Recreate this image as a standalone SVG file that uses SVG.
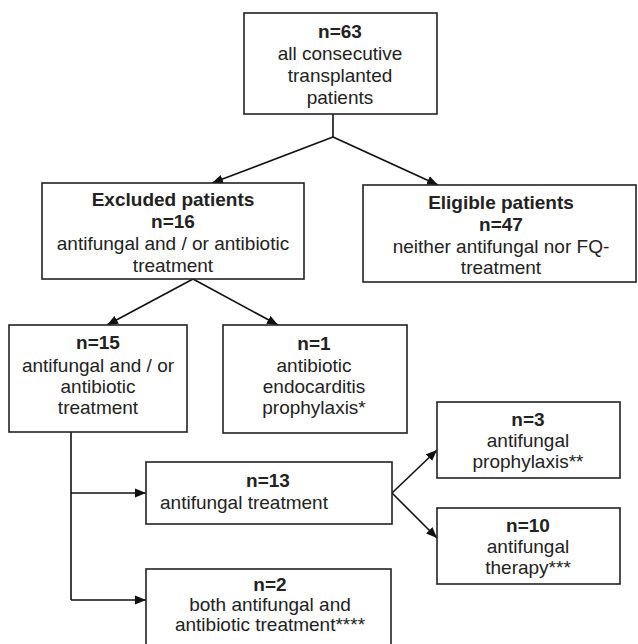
<svg xmlns="http://www.w3.org/2000/svg" width="638" height="644" viewBox="0 0 638 644">
<style>
.box{fill:#fff;stroke:#222;stroke-width:1.6}
text{font-family:"Liberation Sans",Arial,sans-serif;font-size:19px;fill:#222;text-anchor:middle}
.b{font-weight:bold}
.c{fill:none;stroke:#111;stroke-width:1.6}
</style>
<defs>
<marker id="ah" markerWidth="12" markerHeight="10" refX="11" refY="5" orient="auto" markerUnits="userSpaceOnUse">
<path d="M0,0.5 L11,5 L0,9.5 Z" fill="#111"/>
</marker>
</defs>
<rect width="638" height="644" fill="#fff"/>
<g id="connectors">
<path class="c" d="M333,114 V137"/>
<path class="c" d="M333,137 L212,183" marker-end="url(#ah)"/>
<path class="c" d="M333,137 L438,185" marker-end="url(#ah)"/>
<path class="c" d="M193,279 L107,325" marker-end="url(#ah)"/>
<path class="c" d="M193,279 L278,325" marker-end="url(#ah)"/>
<path class="c" d="M71,432 V600"/>
<path class="c" d="M71,493 H146" marker-end="url(#ah)"/>
<path class="c" d="M71,600 H146" marker-end="url(#ah)"/>
<path class="c" d="M392,493 L437,450" marker-end="url(#ah)"/>
<path class="c" d="M392,493 L437,538" marker-end="url(#ah)"/>
</g>
<g id="n63">
<rect class="box" x="244" y="13" width="193" height="101"/>
<text x="340" y="38" class="b">n=63</text>
<text x="340" y="60">all consecutive</text>
<text x="340" y="82">transplanted</text>
<text x="340" y="104">patients</text>
</g>
<g id="excluded">
<rect class="box" x="42" y="183" width="262" height="96"/>
<text x="173" y="206" class="b">Excluded patients</text>
<text x="173" y="228" class="b">n=16</text>
<text x="173" y="250">antifungal and / or antibiotic</text>
<text x="173" y="272">treatment</text>
</g>
<g id="eligible">
<rect class="box" x="363" y="185" width="273" height="97"/>
<text x="501" y="209" class="b">Eligible patients</text>
<text x="501" y="231" class="b">n=47</text>
<text x="501" y="253">neither antifungal nor FQ-</text>
<text x="501" y="274">treatment</text>
</g>
<g id="n15">
<rect class="box" x="9" y="325" width="178" height="107"/>
<text x="98" y="349" class="b">n=15</text>
<text x="98" y="372">antifungal and / or</text>
<text x="98" y="393">antibiotic</text>
<text x="98" y="414">treatment</text>
</g>
<g id="n1">
<rect class="box" x="223" y="325" width="184" height="108"/>
<text x="314" y="350" class="b">n=1</text>
<text x="314" y="372">antibiotic</text>
<text x="314" y="393">endocarditis</text>
<text x="314" y="414">prophylaxis*</text>
</g>
<g id="n13">
<rect class="box" x="146" y="462" width="246" height="62"/>
<text x="268" y="487" class="b">n=13</text>
<text x="160" y="509" style="text-anchor:start">antifungal treatment</text>
</g>
<g id="n3">
<rect class="box" x="437" y="402" width="183" height="76"/>
<text x="528" y="426" class="b">n=3</text>
<text x="528" y="447">antifungal</text>
<text x="528" y="468">prophylaxis**</text>
</g>
<g id="n10">
<rect class="box" x="437" y="508" width="183" height="76"/>
<text x="528" y="532" class="b">n=10</text>
<text x="528" y="553">antifungal</text>
<text x="528" y="574">therapy***</text>
</g>
<g id="n2">
<rect class="box" x="146" y="569" width="245" height="90"/>
<text x="270" y="591" class="b">n=2</text>
<text x="270" y="611">both antifungal and</text>
<text x="270" y="631">antibiotic treatment****</text>
</g>
</svg>
